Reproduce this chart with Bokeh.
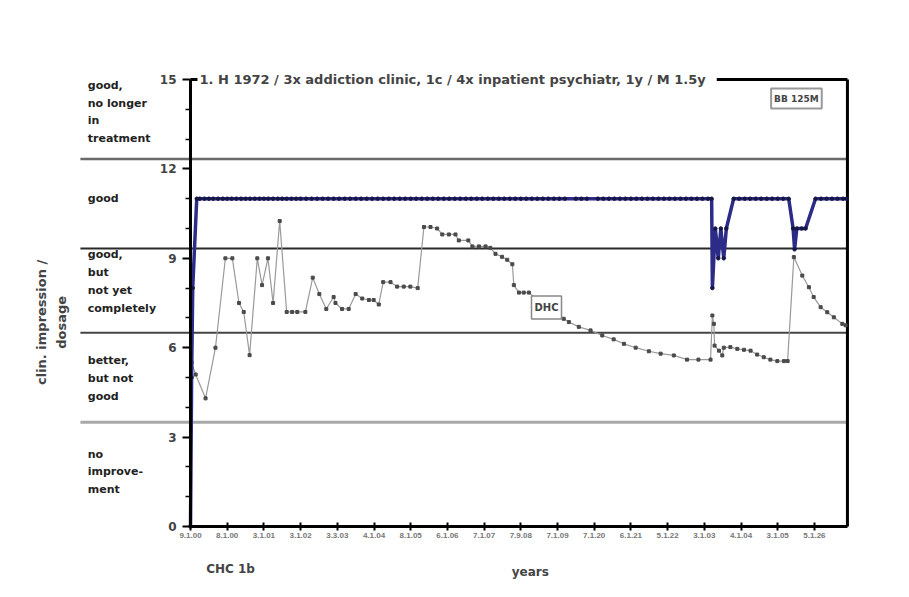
import math
from bokeh.plotting import figure
from bokeh.models import LinearAxis, FixedTicker, Label
from bokeh.embed import file_html
from bokeh.resources import INLINE

# ---------------- data ----------------
x_tick_labels = ["9.1.00", "8.1.00", "3.1.01", "3.1.02", "3.3.03", "4.1.04",
                 "8.1.05", "6.1.06", "7.1.07", "7.9.08", "7.1.09", "7.1.20",
                 "6.1.21", "5.1.22", "3.1.03", "4.1.04", "3.1.05", "5.1.26"]
x_ticks = list(range(len(x_tick_labels)))
y_major = [0, 3, 6, 9, 12, 15]
y_minor = [1, 2, 4, 5, 7, 8, 10, 11, 13, 14]

band_edges = [3.5, 6.5, 9.33, 12.33]
band_edge_colors = ["#a8a8a8", "#444444", "#2a2a2a", "#6a6a6a"]
band_edge_widths = [3, 2, 2, 2.5]
band_labels = ["good,\nno longer\nin\ntreatment", "good",
               "good,\nbut\nnot yet\ncompletely", "better,\nbut not\ngood",
               "no\nimprove-\nment"]
band_label_tops = [15.03, 11.24, 9.33, 5.8, 2.65]

# DHC (grey series): x in tick units, y in score units
dhc_x = [0.03, 0.14, 0.41, 0.68, 0.95, 1.14, 1.32, 1.45, 1.61, 1.82, 1.95, 2.11,
         2.25, 2.43, 2.62, 2.77, 2.91, 3.13, 3.33, 3.51, 3.70, 3.90, 3.95, 4.13,
         4.31, 4.50, 4.68, 4.86, 4.99, 5.13, 5.25, 5.45, 5.63, 5.81, 5.99, 6.19,
         6.36, 6.54, 6.72, 6.86, 7.04, 7.22, 7.31, 7.57, 7.68, 7.86, 8.04, 8.17,
         8.31, 8.49, 8.63, 8.77, 8.81, 8.95, 9.08, 9.22, 9.45, 9.70, 9.95, 10.17,
         10.31, 10.58, 10.90, 11.22, 11.53, 11.81, 12.13, 12.49, 12.81, 13.17,
         13.53, 13.84, 14.17, 14.22, 14.26, 14.28, 14.40, 14.49, 14.53, 14.71,
         14.90, 15.08, 15.26, 15.44, 15.62, 15.80, 15.99, 16.17, 16.27, 16.44,
         16.67, 16.85, 16.98, 17.17, 17.35, 17.53, 17.76, 17.85]
dhc_y = [5.5, 5.1, 4.3, 6.0, 9.0, 9.0, 7.5, 7.2, 5.75, 9.0, 8.1, 9.0,
         7.5, 10.25, 7.2, 7.2, 7.2, 7.2, 8.35, 7.8, 7.3, 7.7, 7.5, 7.3,
         7.3, 7.8, 7.65, 7.6, 7.6, 7.45, 8.2, 8.2, 8.05, 8.05, 8.05, 8.0,
         10.05, 10.05, 10.0, 9.8, 9.8, 9.8, 9.6, 9.6, 9.4, 9.4, 9.4, 9.35,
         9.15, 9.05, 8.95, 8.8, 8.1, 7.85, 7.85, 7.85, 7.6, 7.35, 7.15, 6.97,
         6.86, 6.7, 6.58, 6.41, 6.28, 6.13, 6.0, 5.88, 5.8, 5.74,
         5.6, 5.6, 5.6, 7.08, 6.8, 6.07, 5.9, 5.74, 6.0, 6.02,
         5.96, 5.93, 5.9, 5.77, 5.68, 5.6, 5.55, 5.55, 5.55, 9.04,
         8.42, 8.03, 7.7, 7.36, 7.19, 7.02, 6.8, 6.75]

# clinical impression (blue series)
chc_x = [0.0, 0.03, 0.06, 0.17,
         0.25, 0.38, 0.5, 0.62, 0.75, 0.88, 1.0, 1.12, 1.25, 1.38, 1.5, 1.62,
         1.75, 1.88, 2.0, 2.12, 2.25, 2.38, 2.5, 2.62, 2.75, 2.88, 3.0, 3.15,
         3.3, 3.45, 3.6, 3.75, 3.9, 4.05, 4.2, 4.35, 4.5, 4.65, 4.8, 4.95, 5.1,
         5.25, 5.4, 5.55, 5.7, 5.85, 6.0, 6.15, 6.3, 6.45, 6.6, 6.75, 6.9, 7.05,
         7.2, 7.35, 7.5, 7.65, 7.8, 7.95, 8.1, 8.25, 8.4, 8.55, 8.7, 8.85, 9.0,
         9.15, 9.3, 9.45, 9.6, 9.75, 9.9, 10.05, 10.2, 10.5, 10.65, 10.8, 11.1,
         11.25, 11.4, 11.55, 11.7, 11.85, 12.0, 12.15, 12.3, 12.45, 12.6, 12.75,
         12.9, 13.05, 13.2, 13.35, 13.5, 13.65, 13.8, 13.95, 14.1, 14.2,
         14.22, 14.3, 14.38, 14.45, 14.53, 14.6, 14.8,
         14.95, 15.1, 15.25, 15.4, 15.55, 15.7, 15.85, 16.0, 16.15, 16.3,
         16.42, 16.46, 16.52, 16.65, 16.76, 17.03,
         17.18, 17.33, 17.48, 17.63, 17.78, 17.88]
chc_y = [0.0, 5.0, 8.0, 11.0] + [11.0] * 96 + \
        [8.0, 10.0, 9.0, 10.0, 9.0, 10.0, 11.0] + [11.0] * 10 + \
        [10.0, 9.3, 10.0, 10.0, 10.0, 11.0] + [11.0] * 6

FONT = "Liberation Sans"
WFONT = "DejaVu Sans"

# ---------------- figure ----------------
# the frame spans nearly the whole canvas so that all texts can be drawn
# inside it; the axes are pinned at x=0 and y=0
p = figure(x_range=(-4.251, 18.256), y_range=(-1.779, 15.638),
           frame_width=826, frame_height=519,
           min_border_left=34, min_border_top=60, min_border_right=10,
           min_border_bottom=0,
           y_axis_location=None, output_backend="svg", toolbar_location=None)
p.outline_line_color = None
p.grid.visible = False
p.background_fill_color = "white"

# band boundary lines
p.segment(x0=[-3.0] * 4, y0=band_edges, x1=[17.9] * 4, y1=band_edges,
          line_color=band_edge_colors, line_width=band_edge_widths)

# top and right border
p.segment(x0=[0, 17.9], y0=[15.0, 0], x1=[17.9, 17.9], y1=[15.0, 15.0],
          line_color="black", line_width=3)

# band labels
for txt, top in zip(band_labels, band_label_tops):
    p.add_layout(Label(x=-2.8, y=top, text=txt, text_font=WFONT,
                       text_font_style="bold", text_font_size="11px",
                       text_baseline="top", text_align="left",
                       text_line_height=1.38, text_color="#222222"))

# series
p.line(dhc_x, dhc_y, line_color="#9a9a9a", line_width=1.2)
p.scatter(dhc_x, dhc_y, marker="square", size=3, color="#4a4a4a")
p.line(chc_x, chc_y, line_color="#2c2c88", line_width=3.5)
p.scatter(chc_x, chc_y, marker="circle", size=3.5, color="#161645")

# axes
yax = LinearAxis(fixed_location=0, bounds=(0, 15))
yax.ticker = FixedTicker(ticks=y_major, minor_ticks=y_minor)
yax.axis_line_width = 3
yax.axis_line_color = "black"
yax.major_tick_out = 8
yax.major_tick_in = 0
yax.minor_tick_out = 5
yax.minor_tick_in = 0
yax.major_tick_line_width = 2
yax.minor_tick_line_width = 1.5
yax.major_label_text_font = WFONT
yax.major_label_text_font_style = "bold"
yax.major_label_text_font_size = "12px"
yax.major_label_standoff = 6
p.add_layout(yax, "left")

xax = p.xaxis[0]
xax.fixed_location = 0
xax.bounds = (0, 17.9)
xax.ticker = FixedTicker(ticks=x_ticks)
xax.major_label_overrides = {i: s for i, s in enumerate(x_tick_labels)}
xax.axis_line_width = 3
xax.major_tick_in = 4
xax.major_tick_out = 4
xax.major_tick_line_width = 2
xax.minor_tick_line_color = None
xax.major_label_text_font = FONT
xax.major_label_text_font_style = "bold"
xax.major_label_text_font_size = "8px"
xax.major_label_text_color = "#777777"
xax.major_label_standoff = 3

# texts
p.add_layout(Label(x=0.19, y=15.0,
                   text="1. H 1972  / 3x addiction clinic, 1c  / 4x inpatient psychiatr, 1y / M 1.5y",
                   text_font=WFONT, text_font_style="bold", text_font_size="13px",
                   text_baseline="middle", background_fill_color="white",
                   padding=2))
p.add_layout(Label(x=16.51, y=14.36, text="BB 125M", text_font=WFONT,
                   text_font_style="bold", text_font_size="9px",
                   text_align="center", text_baseline="middle",
                   background_fill_color="white", border_line_color="#999999",
                   border_line_width=2, padding=(3, 5)))
p.add_layout(Label(x=9.70, y=7.35, text="DHC", text_font=WFONT,
                   text_font_style="bold", text_font_size="10px",
                   text_align="center", text_baseline="middle",
                   background_fill_color="white", border_line_color="#888888",
                   border_line_width=1.5, padding=(3, 6)))
p.add_layout(Label(x=-3.79, y=6.85, text="clin. impression /\ndosage",
                   angle=math.pi / 2, text_font=WFONT, text_font_style="bold",
                   text_font_size="13px", text_align="center",
                   text_baseline="middle", text_line_height=1.3))
p.add_layout(Label(x=1.09, y=-1.41, text="CHC 1b", text_font=WFONT,
                   text_font_style="bold", text_font_size="12px",
                   text_align="center", text_baseline="middle"))
p.add_layout(Label(x=9.26, y=-1.54, text="years", text_font=WFONT,
                   text_font_style="bold", text_font_size="12px",
                   text_align="center", text_baseline="middle"))

open("out.html", "w").write(file_html(p, INLINE))
